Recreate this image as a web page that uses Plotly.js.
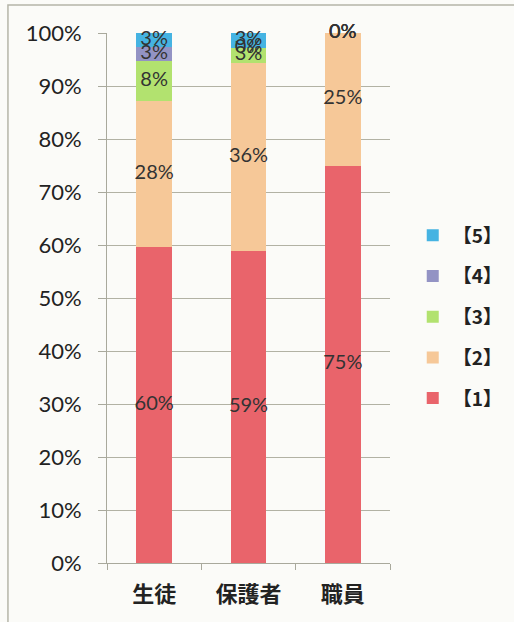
<!DOCTYPE html>
<html><head><meta charset="utf-8">
<script src="https://cdn.plot.ly/plotly-3.0.1.min.js"></script>
<style>html,body{margin:0;padding:0;background:#fbfbf8;}</style>
</head><body>
<div id="chart" style="width:514px;height:622px;"></div>
<script>
const categories = ['生徒', '保護者', '職員'];
const seriesNames = ['【1】', '【2】', '【3】', '【4】', '【5】'];
const s1 = [59.6, 58.8, 75];
const s2 = [27.6, 35.6, 25];
const s3 = [7.6, 2.8, 0];
const s4 = [2.6, 0, 0];
const s5 = [2.6, 2.8, 0];
const colors = ['#e9646b', '#f6c898', '#b2e26f', '#9393c4', '#45b3e2'];
const tickVals = [0, 10, 20, 30, 40, 50, 60, 70, 80, 90, 100];
const tickText = ['0%', '10%', '20%', '30%', '40%', '50%', '60%', '70%', '80%', '90%', '100%'];

const series = [s1, s2, s3, s4, s5];
const traces = [];
series.forEach((vals, i) => {
  traces.push({
    type: 'bar', x: categories, y: vals, name: seriesNames[i],
    marker: {color: colors[i]}, legendrank: 10 - i, legendgroup: 'g' + i,
    hoverinfo: 'skip'
  });
});
// label traces at segment midpoints
const cum = categories.map(() => 0);
series.forEach((vals, i) => {
  const mids = vals.map((v, j) => { const m = cum[j] + v / 2; cum[j] += v; return m; });
  traces.push({
    type: 'scatter', mode: 'text', x: categories, y: mids,
    text: vals.map(v => Math.round(v) + '%'),
    textfont: {family: 'Lato, "Open Sans", sans-serif', size: 20, color: '#333333'},
    showlegend: false, hoverinfo: 'skip', cliponaxis: false
  });
});

const layout = {
  width: 514, height: 622,
  margin: {l: 107, r: 124, t: 33, b: 59},
  paper_bgcolor: '#fbfbf8', plot_bgcolor: '#fbfbf8',
  barmode: 'stack', bargap: 0.62,
  showlegend: true,
  legend: {
    xref: 'container', yref: 'container',
    x: 0.803, y: 0.652, xanchor: 'left', yanchor: 'top',
    traceorder: 'grouped', tracegroupgap: 13,
    font: {family: '"Noto Sans CJK JP", sans-serif', size: 19, color: '#222', weight: 'bold'},
    bgcolor: 'rgba(0,0,0,0)', itemwidth: 30
  },
  xaxis: {
    type: 'category', showgrid: false, showline: true, linecolor: '#a9a99c', linewidth: 1,
    ticks: 'outside', tickson: 'boundaries', ticklen: 6, tickcolor: '#a9a99c',
    ticklabelstandoff: 12,
    tickfont: {family: '"Noto Sans CJK JP", sans-serif', size: 22, color: '#222', weight: 'bold'},
    fixedrange: true, automargin: false
  },
  yaxis: {
    range: [0, 100], tickvals: tickVals, ticktext: tickText,
    showgrid: true, gridcolor: '#b2b2a4', gridwidth: 1,
    showline: true, linecolor: '#a9a99c', linewidth: 1,
    ticks: 'outside', ticklen: 8, tickcolor: '#a9a99c',
    ticklabelstandoff: 12,
    tickfont: {family: 'Lato, "Open Sans", sans-serif', size: 22, color: '#222'},
    zeroline: false, fixedrange: true, automargin: false
  },
  shapes: [{
    type: 'rect', xref: 'paper', yref: 'paper',
    x0: -0.35, x1: 1.8, y0: -0.3, y1: 1.053,
    line: {color: '#b5b5a8', width: 1.5}, fillcolor: 'rgba(0,0,0,0)', layer: 'below'
  }]
};
Plotly.newPlot('chart', traces, layout, {displayModeBar: false, staticPlot: true});
</script>
</body></html>
